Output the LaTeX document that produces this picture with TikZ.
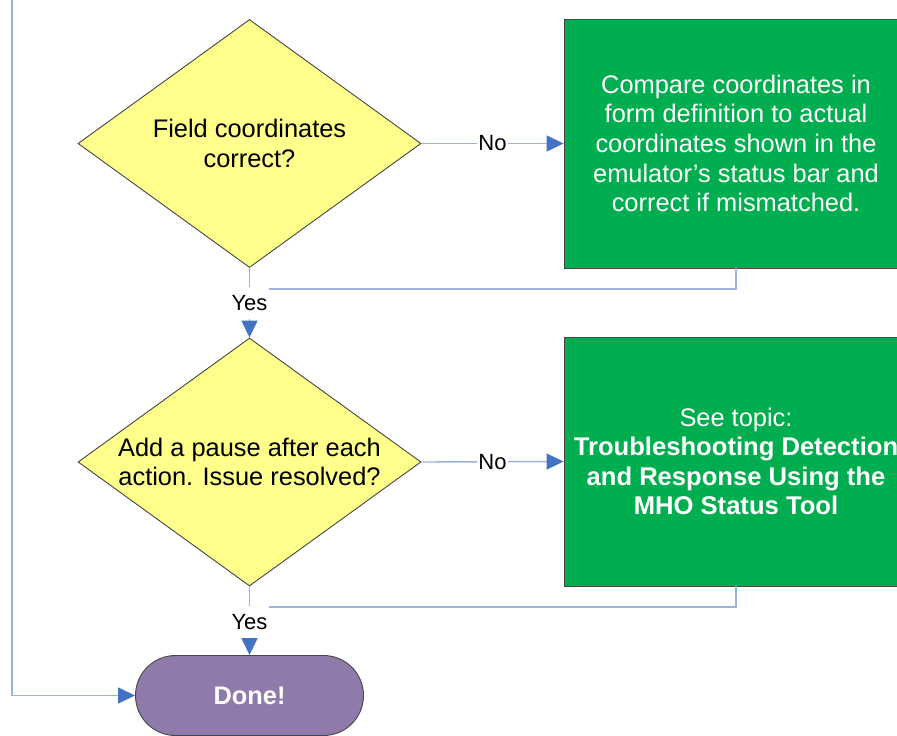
\documentclass[tikz,border=0pt]{standalone}
\usepackage{fontspec}
\setmainfont{Liberation Sans}
\usetikzlibrary{shapes.geometric,arrows.meta}

\definecolor{decisionfill}{HTML}{FFFF8C}
\definecolor{actionfill}{HTML}{00AE4F}
\definecolor{endfill}{HTML}{9079AB}
\definecolor{linkblue}{HTML}{98B3DE}
\definecolor{tipblue}{HTML}{4472C4}
\definecolor{edgegray}{HTML}{454545}

\tikzset{
  bodytext/.style={font=\fontsize{25.4}{29.6}\selectfont, align=center},
  decision/.style={shape=diamond, draw=edgegray, line width=0.9pt, fill=decisionfill,
    minimum width=343pt, minimum height=248pt, aspect=1.383, inner sep=0pt,
    bodytext, text=black},
  action/.style={shape=rectangle, draw=edgegray, line width=0.9pt, fill=actionfill,
    minimum width=344pt, minimum height=249pt, inner sep=0pt, bodytext, text=white},
  terminal/.style={shape=rectangle, rounded corners=40pt, draw=edgegray, line width=0.9pt,
    fill=endfill, minimum width=228pt, minimum height=80pt, inner sep=0pt,
    font=\fontsize{25.4}{29.6}\selectfont\bfseries, text=white},
  link/.style={draw=linkblue, line width=1.4pt},
  flow/.style={link, -{Triangle[length=17pt, width=16pt, color=tipblue]}},
  branch/.style={fill=white, inner sep=1.5pt, font=\fontsize{22}{24}\selectfont, text=black},
  yeslabel/.style={branch, minimum height=32pt, inner xsep=2pt, inner ysep=0pt},
}

\begin{document}
\begin{tikzpicture}[x=1pt, y=-1pt]
\useasboundingbox (0,0) rectangle (897,736);
\clip (0,0) rectangle (897,736);

% shapes
\node[decision] (check) at (249.5,143.5) {Field coordinates\\correct?};
\node[action] (compare) at (736,143.5)
  {Compare coordinates in\\form definition to actual\\coordinates shown in the\\emulator’s status bar and\\correct if mismatched.};
\node[decision] (pause) at (249.5,462) {Add a pause after each\\action. Issue resolved?};
\node[action] (topic) at (736,461.5)
  {See topic:\\{\fontsize{25.6}{29.6}\selectfont\bfseries Troubleshooting Detection}\\{\fontsize{25.6}{29.6}\selectfont\bfseries and Response Using the}\\{\fontsize{25.6}{29.6}\selectfont\bfseries MHO Status Tool}};
\node[terminal] (done) at (249.5,695.5) {Done!};

% join points and the incoming line from above
\coordinate (joinA) at (249.5,289);
\coordinate (joinB) at (249.5,607);
\coordinate (feed) at (12,-10);

% return lines from the action boxes
\draw[link] (compare.south) |- (joinA);
\draw[link] (topic.south) |- (joinB);

% main flow
\draw[flow] (check.east) -- node[branch, pos=0.5] {No} (compare.west);
\draw[flow] (pause.east) -- node[branch, pos=0.5] {No} (topic.west);
\draw[flow] (check.south) -- node[yeslabel, pos=0.507] {Yes} (pause.north);
\draw[flow] (pause.south) -- node[yeslabel, pos=0.52] {Yes} (done.north);
\draw[flow] (feed) |- (done.west);
\end{tikzpicture}
\end{document}
